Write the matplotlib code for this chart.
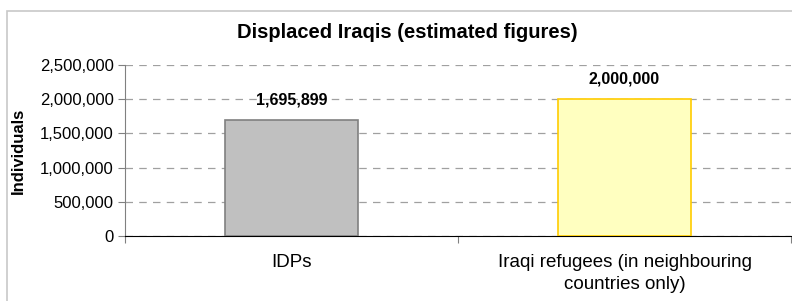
import matplotlib.pyplot as plt
from matplotlib.patches import Rectangle
from matplotlib.ticker import FuncFormatter

categories = ["IDPs", "Iraqi refugees (in neighbouring\ncountries only)"]
values = [1695899, 2000000]
face_colors = ["#c0c0c0", "#ffffc0"]
edge_colors = ["#808080", "#ffcc00"]

plt.rcParams['font.family'] = ['Liberation Sans', 'DejaVu Sans']

fig = plt.figure(figsize=(7.92, 3.01), dpi=100)
ax = fig.add_axes([125 / 792, 1 - 236 / 301, 666 / 792, 171 / 301])

# outer chart border (top and left visible)
fig.patches.append(Rectangle((7 / 792, -0.1), 1.2, (301 - 11) / 301 + 0.1,
                             transform=fig.transFigure, fill=False,
                             edgecolor="#c8c8c8", linewidth=1.2))

x = range(len(categories))
ax.bar(x, values, width=0.4, color=face_colors, edgecolor=edge_colors,
       linewidth=1.2, zorder=3)

for i, v in enumerate(values):
    ax.annotate(f"{v:,}", (i, v), xytext=(0, 9), textcoords="offset points",
                ha="center", va="bottom", fontsize=11.5, fontweight="bold")

ax.set_xlim(-0.5, 1.5)
ax.set_ylim(0, 2500000)
ax.set_yticks(range(0, 2500001, 500000))
ax.yaxis.set_major_formatter(FuncFormatter(lambda v, p: f"{int(v):,}"))
ax.set_xticks([-0.5, 0.5, 1.5], minor=False)
ax.set_xticklabels(["", "", ""])
ax.set_xticks(list(x), minor=True)
ax.set_xticklabels(categories, minor=True, fontsize=13.5, linespacing=1.4)
ax.tick_params(axis="x", which="minor", length=0, pad=13)
ax.tick_params(axis="x", which="major", length=5, color="#808080")
ax.tick_params(axis="y", length=5, color="#808080", labelsize=12, pad=3)

ax.grid(axis="y", linestyle=(0, (6, 5)), color="#a0a0a0", linewidth=0.9, zorder=0)
for s in ["top", "right"]:
    ax.spines[s].set_visible(False)
ax.spines["left"].set_color("#808080")
ax.spines["bottom"].set_color("#000000")

ax.set_ylabel("Individuals", fontsize=12, fontweight="bold", labelpad=10)
fig.text(407 / 792, 1 - 33 / 301, "Displaced Iraqis (estimated figures)",
         ha="center", va="center", fontsize=14.5, fontweight="bold")

fig.savefig("out.png", dpi=100)
